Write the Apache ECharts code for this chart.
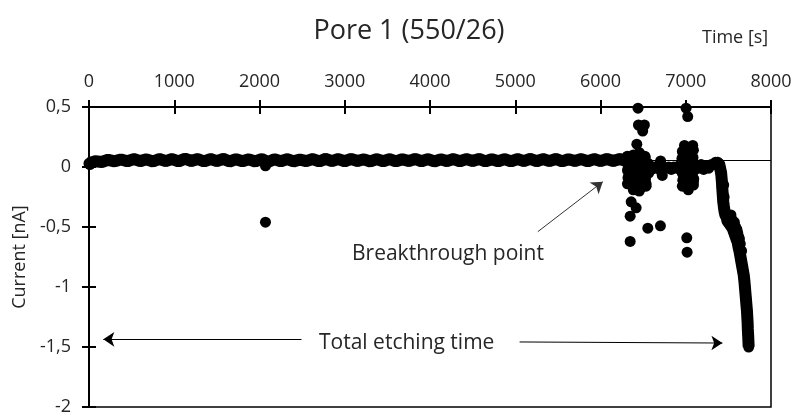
<!DOCTYPE html>
<html><head><meta charset="utf-8">
<script src="https://cdn.jsdelivr.net/npm/echarts@6/dist/echarts.min.js"></script>
<style>html,body{margin:0;padding:0;background:#fff}#c{width:796px;height:416px}</style>
</head><body><div id="c"></div>
<script>
// Baseline current before breakthrough (time [s], current [nA])
const baseTime = [0,75,150,225,300,375,450,525,600,675,750,825,900,975,1050,1125,1200,1275,1350,1425,1500,1575,1650,1725,1800,1875,1950,2025,2100,2175,2250,2325,2400,2475,2550,2625,2700,2775,2850,2925,3000,3075,3150,3225,3300,3375,3450,3525,3600,3675,3750,3825,3900,3975,4050,4125,4200,4275,4350,4425,4500,4575,4650,4725,4800,4875,4950,5025,5100,5175,5250,5325,5400,5475,5550,5625,5700,5775,5850,5925,6000,6075,6150,6225,6300];
const baseCurrent = [0.030,0.048,0.042,0.060,0.047,0.063,0.048,0.066,0.049,0.064,0.046,0.067,0.049,0.066,0.047,0.069,0.050,0.067,0.046,0.066,0.049,0.068,0.046,0.065,0.048,0.064,0.046,0.066,0.042,0.064,0.048,0.066,0.047,0.062,0.049,0.066,0.046,0.068,0.049,0.066,0.048,0.067,0.050,0.064,0.046,0.066,0.048,0.066,0.047,0.065,0.049,0.067,0.048,0.066,0.046,0.064,0.049,0.066,0.048,0.066,0.050,0.067,0.047,0.065,0.048,0.066,0.046,0.066,0.049,0.068,0.048,0.066,0.049,0.067,0.047,0.065,0.050,0.066,0.048,0.066,0.049,0.067,0.050,0.066,0.050];
// Isolated early points
const earlyTime = [10, 20, 2070, 2070];
const earlyCurrent = [0.020, 0.040, 0.010, -0.46];
// Noisy region after breakthrough
const burstTime = [6310,6320,6330,6335,6345,6350,6365,6375,6390,6400,6410,6425,6430,6440,6455,6465,6480,6490,6505,6520,6535,6550,6565,6580,6600,6630,6660,6690,6705,6715,6725,6740,6770,6800,6830,6860,6890,6920,6950,6965,6975,6985,6990,7000,7010,7020,7030,7045,7060,7075,7082,7090,7100,7120,7150,7180,7210,7240,7270,7300,7330,
  6315,6320,6318,6322,6316,6385,6390,6380,6388,6392,6385,6455,6460,6450,6458,6462,6455,6525,6530,6520,6528,6535,6560,6565,
  6960,6955,6962,6958,6965,6960,7030,7025,7035,7028,7032,7026,7030,7090,7085,7092,7088,7094,7090,
  6440,6445,6475,6515,6495,6426,7004,7023,6360,6418,6348,6555,6703,6348,7012,7016];
const burstCurrent = [0.06,-0.02,-0.08,0.03,-0.13,-0.04,0.05,-0.10,-0.16,0.02,-0.06,-0.19,0.08,-0.12,0.10,-0.03,-0.17,0.05,-0.08,0.09,-0.14,0.02,-0.05,0.00,-0.02,0.00,-0.01,0.02,0.05,-0.04,-0.07,0.00,-0.01,0.00,-0.02,0.00,-0.01,0.01,-0.03,0.08,-0.10,0.18,0.03,-0.15,0.10,-0.06,-0.16,0.12,-0.04,0.06,0.18,-0.12,-0.02,0.01,-0.01,0.02,-0.02,0.01,-0.01,0.02,0.02,
  0.09,0.03,-0.03,-0.09,-0.14,0.10,0.04,-0.02,-0.08,-0.14,-0.19,0.12,0.05,-0.01,-0.07,-0.13,-0.20,0.08,0.02,-0.04,-0.10,-0.16,0.03,-0.03,
  0.13,0.07,0.01,-0.05,-0.11,-0.16,0.15,0.09,0.03,-0.03,-0.09,-0.15,-0.19,0.14,0.08,0.02,-0.04,-0.10,-0.15,
  0.49,0.35,0.34,0.35,0.30,0.19,0.49,0.42,-0.29,-0.34,-0.41,-0.51,-0.49,-0.62,-0.59,-0.71];
// Final drop of the current (main path, then extra spread)
const dropTime = [7350,7370,7390,7400,7415,7420,7425,7428,7432,7436,7440,7447,7455,7465,7480,7490,7510,7530,7550,7565,7580,7595,7610,7620,7630,7640,7650,7660,7670,7680,7688,7694,7700,7706,7712,7718,7722,7726,7728,7732,7735,7738];
const dropCurrent = [0.04,0.035,0.03,0.00,-0.05,-0.09,-0.13,-0.17,-0.21,-0.25,-0.29,-0.33,-0.37,-0.40,-0.42,-0.45,-0.47,-0.49,-0.51,-0.54,-0.57,-0.60,-0.63,-0.67,-0.70,-0.74,-0.78,-0.82,-0.86,-0.90,-0.95,-1.00,-1.05,-1.10,-1.15,-1.20,-1.25,-1.30,-1.35,-1.40,-1.45,-1.50];
const dropSpreadTime = [7530,7570,7600,7620,7640,7655,7490,7545,7585,7610,7630,7445,7450];
const dropSpreadCurrent = [-0.40,-0.46,-0.52,-0.58,-0.64,-0.70,-0.40,-0.44,-0.50,-0.55,-0.60,-0.15,-0.25];
const baselineLevel = 0.058;

const xTicks = {min: 0, max: 8000, interval: 1000};
const yTicks = {min: -2, max: 0.5, interval: 0.5};

function pairs(t, c) { return t.map((v, i) => [v, c[i]]); }
const basePts = pairs(baseTime, baseCurrent);
const dropPts = pairs(dropTime, dropCurrent);
const points = [].concat(basePts, pairs(earlyTime, earlyCurrent), pairs(burstTime, burstCurrent), dropPts, pairs(dropSpreadTime, dropSpreadCurrent));

const FONT = 'Open Sans';
const TXT = '#262626';
const chart = echarts.init(document.getElementById('c'));
chart.setOption({
  animation: false,
  backgroundColor: '#fff',
  title: {text: 'Pore 1 (550/26)', left: 409, top: 18, textAlign: 'center', padding: 0,
    textStyle: {fontFamily: FONT, fontSize: 27, fontWeight: 'normal', color: TXT}},
  grid: {left: 89, top: 107, right: 25, bottom: 9, outerBoundsMode: 'none',
    show: true, borderColor: '#000', borderWidth: 1.5},
  xAxis: [
    {type: 'value', position: 'top', min: xTicks.min, max: xTicks.max, interval: xTicks.interval,
      axisLine: {show: true, onZero: false, lineStyle: {color: '#000', width: 2}},
      axisTick: {show: true, length: 7, lineStyle: {color: '#000', width: 2}},
      axisLabel: {margin: 16, fontFamily: FONT, fontSize: 18, color: TXT, formatter: v => String(v)},
      splitLine: {show: false}},
    {type: 'value', position: 'top', min: xTicks.min, max: xTicks.max, interval: xTicks.interval,
      axisLine: {show: false, onZero: false}, axisLabel: {show: false},
      axisTick: {show: true, inside: true, length: 7, lineStyle: {color: '#000', width: 2}},
      splitLine: {show: false}}
  ],
  yAxis: [
    {type: 'value', position: 'left', min: yTicks.min, max: yTicks.max, interval: yTicks.interval,
      name: 'Current [nA]', nameLocation: 'middle', nameGap: 60, nameRotate: 90, nameMoveOverlap: false,
      nameTextStyle: {fontFamily: FONT, fontSize: 18, color: TXT},
      axisLine: {show: true, onZero: false, lineStyle: {color: '#000', width: 2}},
      axisTick: {show: true, length: 7, lineStyle: {color: '#000', width: 2}},
      axisLabel: {margin: 18, fontFamily: FONT, fontSize: 18, color: TXT,
        formatter: v => String(v).replace('.', ',')},
      splitLine: {show: false}},
    {type: 'value', position: 'left', min: yTicks.min, max: yTicks.max, interval: yTicks.interval,
      axisLine: {show: false, onZero: false}, axisLabel: {show: false},
      axisTick: {show: true, inside: true, length: 7, lineStyle: {color: '#000', width: 2}},
      splitLine: {show: false}}
  ],
  graphic: [
    {type: 'text', left: 702, top: 29, style: {text: 'Time [s]', font: '18px "Open Sans"', fill: TXT}},
    {type: 'text', left: 352, top: 244, style: {text: 'Breakthrough point', font: '21px "Open Sans"', fill: TXT}},
    {type: 'text', left: 319, top: 333, style: {text: 'Total etching time', font: '21px "Open Sans"', fill: TXT}}
  ],
  series: [
    {type: 'line', data: [], z: 1,
      markLine: {silent: true, symbol: ['none', 'none'], label: {show: false},
        lineStyle: {color: '#000', width: 1, type: 'solid'},
        data: [{yAxis: baselineLevel}]}},
    // dense sampling: the scatter band is rendered solid by a thick line through the same points
    {type: 'line', data: basePts, showSymbol: false, z: 2, lineStyle: {color: '#000', width: 12}},
    {type: 'line', data: dropPts, showSymbol: false, z: 2, lineStyle: {color: '#000', width: 12}},
    {type: 'scatter', data: points, symbol: 'circle', symbolSize: 11, z: 3,
      itemStyle: {color: '#000', opacity: 1}},
    {type: 'line', data: [], z: 4,
      markLine: {silent: true, symbol: ['none', 'arrow'], symbolSize: 11, label: {show: false},
        lineStyle: {color: '#000', width: 1, type: 'solid'},
        data: [
          [{coord: [2493, -1.4375]}, {coord: [168, -1.436]}],
          [{coord: [5051, -1.458]}, {coord: [7430, -1.467]}],
          [{coord: [5265, -0.539], lineStyle: {color: '#333'}}, {coord: [6027, -0.1225]}]
        ]}}
  ]
});
</script></body></html>
